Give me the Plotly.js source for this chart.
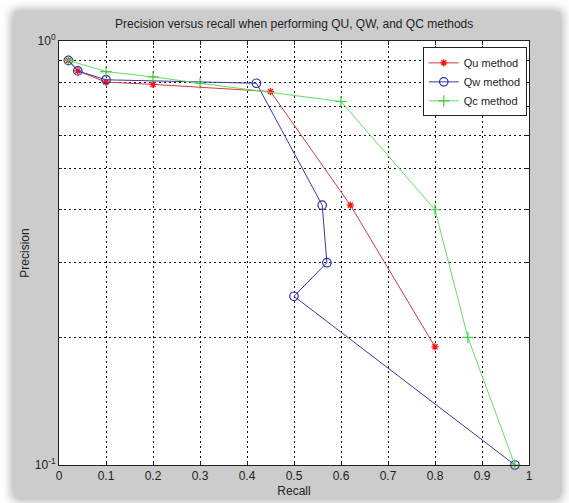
<!DOCTYPE html>
<html>
<head>
<meta charset="utf-8">
<script src="https://cdn.plot.ly/plotly-3.0.1.min.js"></script>
<style>
  html, body { margin:0; padding:0; background:#ffffff; }
  #wrap { position:relative; width:569px; height:503px; overflow:hidden; background:#ffffff; }
  #panel { position:absolute; left:14px; top:12px; width:546px; height:486px; background:#cccccc;
           box-shadow: 0 0 10px 2px rgba(0,0,0,0.35); }
  #chart { position:absolute; left:0; top:0; width:569px; height:503px; }
</style>
</head>
<body>
<div id="wrap">
  <div id="panel"></div>
  <div id="chart"></div>
</div>
<script>
// Data
const quRecall    = [0.02, 0.04, 0.10, 0.20, 0.45, 0.62, 0.80];
const quPrecision = [0.90, 0.85, 0.80, 0.79, 0.76, 0.41, 0.19];

const qwRecall    = [0.02, 0.04, 0.10, 0.42, 0.56, 0.57, 0.50, 0.97];
const qwPrecision = [0.90, 0.85, 0.81, 0.795, 0.41, 0.30, 0.25, 0.10];

const qcRecall    = [0.02, 0.10, 0.20, 0.30, 0.60, 0.80, 0.87, 0.97];
const qcPrecision = [0.90, 0.847, 0.823, 0.795, 0.72, 0.40, 0.20, 0.10];

const seriesNames = ['Qu method', 'Qw method', 'Qc method'];

const xTicks = [0, 0.1, 0.2, 0.3, 0.4, 0.5, 0.6, 0.7, 0.8, 0.9, 1];
const xTickText = ['0', '0.1', '0.2', '0.3', '0.4', '0.5', '0.6', '0.7', '0.8', '0.9', '1'];
const yTicks = [0.1, 1];
const yTickText = ['10<sup>-1</sup>', '10<sup>0</sup>'];
const yMinorTicks = [0.2, 0.3, 0.4, 0.5, 0.6, 0.7, 0.8, 0.9];

const FONT = '"Liberation Sans Narrow", "Liberation Sans", Arial, sans-serif';
const GRIDDASH = '2px,3px';

const traces = [
  {
    x: quRecall, y: quPrecision, name: seriesNames[0], type: 'scatter', mode: 'lines+markers',
    line: {color: '#d23a3a', width: 1},
    marker: {symbol: 'asterisk-open', size: 6, color: '#ff1010', line: {color: '#ff1010', width: 1.3}},
    cliponaxis: false
  },
  {
    x: qwRecall, y: qwPrecision, name: seriesNames[1], type: 'scatter', mode: 'lines+markers',
    line: {color: '#3a3a9e', width: 1},
    marker: {symbol: 'circle-open', size: 8.5, color: '#2a2ab8', line: {color: '#2a2ab8', width: 1.2}},
    cliponaxis: false
  },
  {
    x: qcRecall, y: qcPrecision, name: seriesNames[2], type: 'scatter', mode: 'lines+markers',
    line: {color: '#5fe05f', width: 1},
    marker: {symbol: 'cross-thin-open', size: 8, color: '#3fd03f', line: {color: '#3fd03f', width: 1.2}},
    cliponaxis: false
  }
];

const layout = {
  width: 569, height: 503,
  margin: {l: 59, r: 40, t: 41, b: 38},
  paper_bgcolor: 'rgba(0,0,0,0)',
  plot_bgcolor: '#ffffff',
  font: {family: FONT, size: 12, color: '#222222'},
  title: {
    text: 'Precision versus recall when performing QU, QW, and QC methods',
    font: {family: FONT, size: 12, color: '#222222'},
    x: 0.517, xanchor: 'center', y: 0.953, yanchor: 'middle', yref: 'container'
  },
  showlegend: true,
  legend: {
    x: 0.774, y: 0.985, xanchor: 'left', yanchor: 'top',
    bgcolor: '#ffffff', bordercolor: '#222222', borderwidth: 1,
    font: {family: FONT, size: 11, color: '#222222'},
    tracegroupgap: 0
  },
  xaxis: {
    range: [0, 1], tickmode: 'array', tickvals: xTicks, ticktext: xTickText,
    showgrid: true, gridcolor: '#111111', griddash: GRIDDASH, gridwidth: 1,
    showline: true, linecolor: '#222222', linewidth: 1, mirror: 'ticks',
    ticks: 'inside', ticklen: 4, tickcolor: '#222222',
    zeroline: false, tickfont: {family: FONT, size: 12, color: '#222222'},
    title: {text: 'Recall', font: {family: FONT, size: 12, color: '#222222'}, standoff: 4}
  },
  yaxis: {
    type: 'log', range: [-1, 0], tickmode: 'array', tickvals: yTicks, ticktext: yTickText,
    showgrid: true, gridcolor: '#111111', griddash: GRIDDASH, gridwidth: 1,
    showline: true, linecolor: '#222222', linewidth: 1, mirror: 'ticks',
    ticks: 'inside', ticklen: 4, tickcolor: '#222222',
    minor: {tickmode: 'array', tickvals: yMinorTicks, showgrid: true, gridcolor: '#111111',
            griddash: GRIDDASH, gridwidth: 1, ticks: 'inside', ticklen: 3, tickcolor: '#222222'},
    zeroline: false, tickfont: {family: FONT, size: 12, color: '#222222'},
    title: {text: 'Precision', font: {family: FONT, size: 12, color: '#222222'}, standoff: 2}
  }
};

Plotly.newPlot('chart', traces, layout, {displayModeBar: false, staticPlot: true});
</script>
</body>
</html>
